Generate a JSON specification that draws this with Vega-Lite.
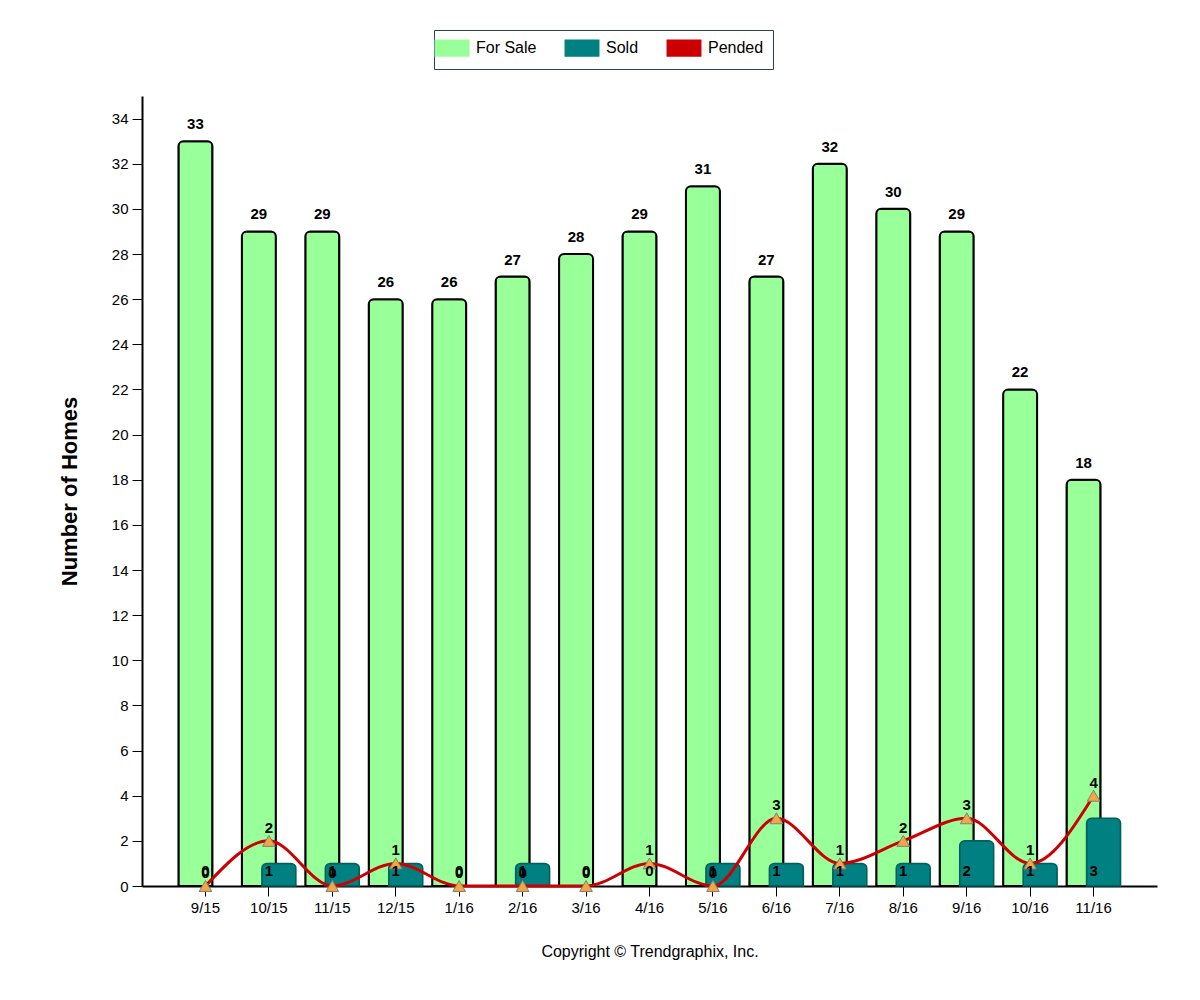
{
  "$schema": "https://vega.github.io/schema/vega-lite/v6.json",
  "width": 1015,
  "height": 790,
  "autosize": "none",
  "padding": {"left": 142, "top": 96, "right": 43, "bottom": 114},
  "background": "white",
  "config": {
    "view": {"stroke": null},
    "font": "Liberation Sans",
    "legend": {
      "title": null,
      "orient": "none",
      "legendX": 292,
      "legendY": -66,
      "direction": "horizontal",
      "strokeColor": "#2B3F63",
      "fillColor": "white",
      "padding": 9,
      "columnPadding": 24,
      "labelFontSize": 16,
      "labelOffset": 15,
      "labelColor": "black",
      "symbolSize": 256
    }
  },
  "data": {
    "values": [
      {"month": "9/15", "forSale": 33, "sold": 0, "pended": 0},
      {"month": "10/15", "forSale": 29, "sold": 1, "pended": 2},
      {"month": "11/15", "forSale": 29, "sold": 1, "pended": 0},
      {"month": "12/15", "forSale": 26, "sold": 1, "pended": 1},
      {"month": "1/16", "forSale": 26, "sold": 0, "pended": 0},
      {"month": "2/16", "forSale": 27, "sold": 1, "pended": 0},
      {"month": "3/16", "forSale": 28, "sold": 0, "pended": 0},
      {"month": "4/16", "forSale": 29, "sold": 0, "pended": 1},
      {"month": "5/16", "forSale": 31, "sold": 1, "pended": 0},
      {"month": "6/16", "forSale": 27, "sold": 1, "pended": 3},
      {"month": "7/16", "forSale": 32, "sold": 1, "pended": 1},
      {"month": "8/16", "forSale": 30, "sold": 1, "pended": 2},
      {"month": "9/16", "forSale": 29, "sold": 2, "pended": 3},
      {"month": "10/16", "forSale": 22, "sold": 1, "pended": 1},
      {"month": "11/16", "forSale": 18, "sold": 3, "pended": 4}
    ]
  },
  "encoding": {
    "x": {
      "field": "month",
      "type": "ordinal",
      "sort": null,
      "scale": {"paddingInner": 0, "paddingOuter": 0.5},
      "axis": {
        "title": "Copyright © Trendgraphix, Inc.",
        "titleFontSize": 16,
        "titleFontWeight": "normal",
        "titleColor": "black",
        "titlePadding": 28,
        "labelAngle": 0,
        "labelFontSize": 15,
        "labelColor": "black",
        "labelPadding": 4,
        "tickSize": 10,
        "tickColor": "black",
        "domainColor": "black",
        "domainWidth": 2,
        "grid": false
      }
    }
  },
  "layer": [
    {
      "mark": {"type": "bar", "width": 34, "xOffset": -10, "stroke": "black", "strokeWidth": 2, "cornerRadiusTopLeft": 5, "cornerRadiusTopRight": 5},
      "encoding": {
        "y": {
          "field": "forSale",
          "type": "quantitative",
          "scale": {"domain": [0, 35], "nice": false},
          "axis": {
            "title": "Number of Homes",
            "titleFontSize": 22,
            "titleFontWeight": "bold",
            "titleColor": "black",
            "titlePadding": 30,
            "values": [0, 2, 4, 6, 8, 10, 12, 14, 16, 18, 20, 22, 24, 26, 28, 30, 32, 34],
            "labelFontSize": 15,
            "labelColor": "black",
            "labelPadding": 4,
            "tickSize": 10,
            "tickColor": "black",
            "domainColor": "black",
            "domainWidth": 2,
            "grid": false
          }
        },
        "color": {
          "datum": "For Sale",
          "type": "nominal",
          "scale": {"domain": ["For Sale", "Sold", "Pended"], "range": ["#99FF99", "#008080", "#CC0000"]},
          "legend": {
            "symbolType": "M-2.06,-0.95H2.06V0.95H-2.06Z",
            "symbolStrokeColor": "#1A1A1A",
            "symbolStrokeWidth": 2,
            "symbolOpacity": 1
          }
        }
      }
    },
    {
      "transform": [{"filter": "datum.sold > 0"}],
      "mark": {"type": "bar", "width": 34, "xOffset": 10, "stroke": "#00605C", "strokeWidth": 1.5, "cornerRadiusTopLeft": 5, "cornerRadiusTopRight": 5},
      "encoding": {
        "y": {"field": "sold", "type": "quantitative"},
        "color": {"datum": "Sold", "type": "nominal", "legend": null}
      }
    },
    {
      "mark": {"type": "line", "interpolate": "monotone", "strokeWidth": 3},
      "encoding": {
        "y": {"field": "pended", "type": "quantitative"},
        "color": {"datum": "Pended", "type": "nominal", "legend": null}
      }
    },
    {
      "mark": {"type": "point", "shape": "triangle-up", "filled": true, "fill": "#F4A640", "stroke": "#7F7F7F", "strokeWidth": 1, "size": 160, "opacity": 1},
      "encoding": {
        "y": {"field": "pended", "type": "quantitative"}
      }
    },
    {
      "mark": {"type": "text", "xOffset": -10, "dy": -17, "fontWeight": "bold", "fontSize": 15, "fill": "black"},
      "encoding": {
        "y": {"field": "forSale", "type": "quantitative"},
        "text": {"field": "forSale", "type": "quantitative"}
      }
    },
    {
      "mark": {"type": "text", "dy": -15, "fontWeight": "bold", "fontSize": 15, "fill": "black"},
      "encoding": {
        "y": {"datum": 0, "type": "quantitative"},
        "text": {"field": "sold", "type": "quantitative"}
      }
    },
    {
      "mark": {"type": "text", "dy": -13, "fontWeight": "bold", "fontSize": 15, "fill": "black"},
      "encoding": {
        "y": {"field": "pended", "type": "quantitative"},
        "text": {"field": "pended", "type": "quantitative"}
      }
    }
  ]
}
